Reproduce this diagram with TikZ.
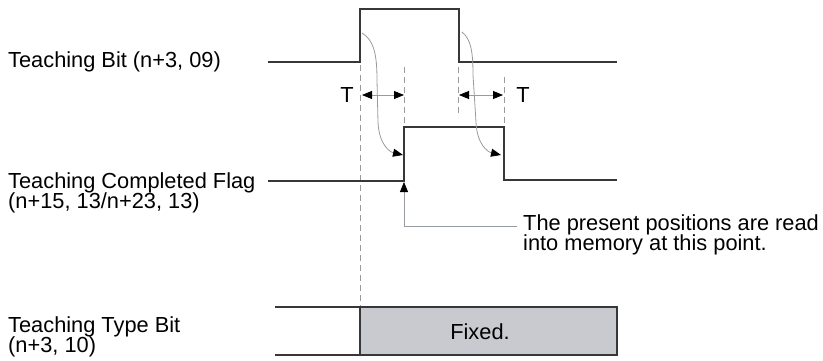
\documentclass[tikz,border=0pt]{standalone}
\usepackage{fontspec}
\setmainfont{Liberation Sans}
\usetikzlibrary{arrows.meta}
\definecolor{wave}{RGB}{55,55,55}
\definecolor{guide}{RGB}{150,155,160}
\definecolor{fixedfill}{RGB}{200,202,208}
\tikzset{
  signal/.style={draw=wave,line width=1.6pt},
  guideline/.style={draw=guide,line width=0.8pt,dash pattern=on 6pt off 4pt},
  tip/.tip={Triangle[length=10pt,width=8pt,color=black]},
  flow/.style={draw=guide,line width=0.8pt,-tip},
  span/.style={draw=guide,line width=0.8pt,tip-tip},
  label/.style={font=\fontsize{21.8}{20.5}\selectfont,align=left,inner sep=0pt}
}
\begin{document}
\begin{tikzpicture}[x=1pt,y=-1pt]
\useasboundingbox (0,0) rectangle (823,361);
% signal names
\node[label,anchor=west] (bitname) at (8,62) {Teaching Bit (n+3, 09)};
\node[label,anchor=west] (flagname) at (8,193) {Teaching Completed Flag\\(n+15, 13/n+23, 13)};
\node[label,anchor=west] (typename) at (8,337) {Teaching Type Bit\\(n+3, 10)};
% timing guides
\draw[guideline] (360,65) -- (360,307);
\draw[guideline] (404,67) -- (404,127);
\draw[guideline] (458,67) -- (458,117);
\draw[guideline] (504,77) -- (504,127);
% waveforms
\draw[signal] (268,62) -- (360,62) -- (360,9) -- (459,9) -- (459,62) -- (617,62);
\draw[signal] (268,181) -- (404,181) -- (404,127) -- (504,127) -- (504,180) -- (617,180);
\draw[signal] (275,307) -- (360,307);
\draw[signal] (275,355) -- (360,355);
\draw[signal,fill=fixedfill] (360,307) rectangle (617,355);
\node[label] (fixed) at (480,332) {Fixed.};
% delays
\draw[span] (362,95) -- (404,95);
\draw[span] (459,95) -- (503,95);
\node[label] (tleft) at (347,95) {T};
\node[label] (tright) at (523,95) {T};
% cause arrows
\draw[flow] (362,33) .. controls (374,40) and (377,55) .. (377,80) -- (378,122) .. controls (379,145) and (390,152) .. (403,155);
\draw[flow] (462,32) .. controls (471,39) and (473,52) .. (473,75) -- (476,122) .. controls (477,145) and (488,152) .. (501,155);
% read point
\coordinate (readpt) at (404,182);
\coordinate (bend) at (517,226);
\node[label,anchor=west] (note) at (523,235) {The present positions are read\\into memory at this point.};
\draw[flow] (bend) -| (readpt);
\end{tikzpicture}
\end{document}
